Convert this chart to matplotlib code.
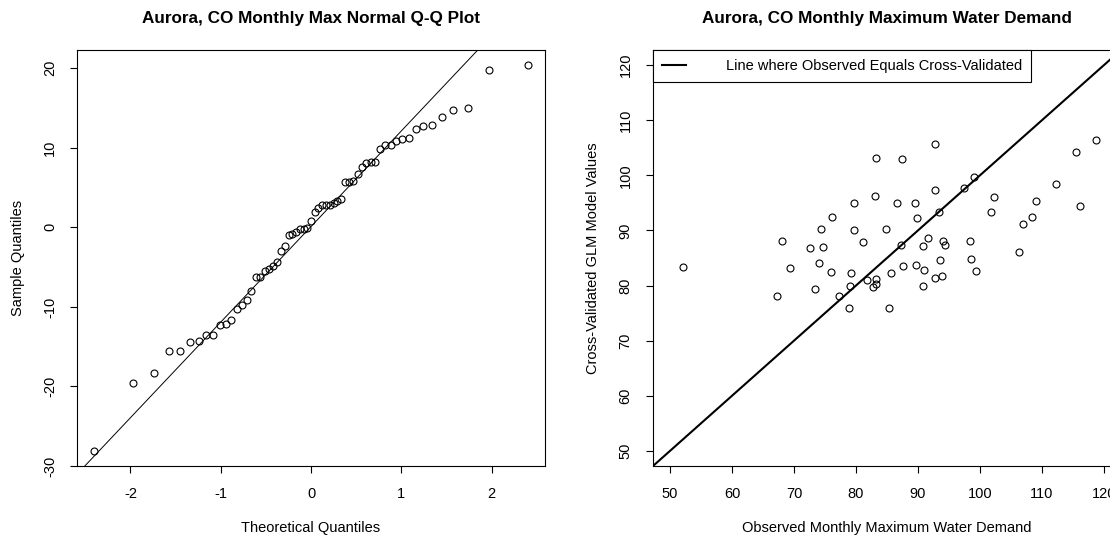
import statistics
import matplotlib.pyplot as plt
import numpy as np

plt.rcParams['font.family'] = ['Liberation Sans', 'DejaVu Sans']
plt.rcParams['axes.unicode_minus'] = False

# monthly max values, sorted
sample_quantiles = [
    -28.1, -19.5, -18.3, -15.6, -15.6, -14.4, -14.3, -13.5, -13.5, -12.3,
    -12.1, -11.6, -10.3, -9.8, -9.1, -8.0, -6.3, -6.3, -5.5, -5.2,
    -4.8, -4.4, -3.0, -2.3, -1.0, -0.8, -0.6, -0.25, -0.2, -0.1,
    0.8, 1.9, 2.4, 2.8, 2.8, 2.8, 3.1, 3.3, 3.6, 5.65,
    5.65, 5.8, 6.7, 7.6, 8.1, 8.2, 8.2, 9.8, 10.3, 10.4,
    10.9, 11.1, 11.2, 12.3, 12.7, 12.9, 13.9, 14.8, 15.0, 19.8,
    20.4]

# observed vs cross-validated GLM values
observed = [
    52.1, 68.0, 69.3, 67.3, 76.1, 74.4, 72.6, 74.6, 74.0, 75.9,
    73.4, 79.6, 79.6, 81.2, 79.2, 79.0, 77.3, 78.8, 83.3, 83.1,
    84.8, 81.8, 83.3, 83.3, 82.7, 92.8, 87.4, 92.8, 86.6, 89.5,
    89.8, 93.4, 97.4, 99.0, 102.3, 101.7, 109.0, 108.4, 106.9, 112.3,
    115.4, 118.7, 116.1, 106.3, 87.2, 90.8, 91.6, 94.1, 94.3, 98.4,
    93.5, 98.6, 99.4, 87.5, 89.7, 91.0, 85.6, 92.8, 93.9, 90.8,
    85.4]
cross_validated = [
    83.4, 88.1, 83.1, 78.1, 92.4, 90.3, 86.8, 87.0, 84.0, 82.4,
    79.4, 94.9, 90.1, 87.9, 82.2, 80.0, 78.1, 75.9, 103.1, 96.2,
    90.3, 81.0, 81.1, 80.2, 79.8, 105.7, 102.9, 97.3, 94.9, 94.9,
    92.3, 93.4, 97.7, 99.6, 96.1, 93.3, 95.3, 92.4, 91.1, 98.5,
    104.2, 106.4, 94.4, 86.0, 87.4, 87.2, 88.6, 88.0, 87.3, 88.1,
    84.6, 84.9, 82.6, 83.6, 83.8, 82.9, 82.2, 81.4, 81.8, 79.9,
    75.9]

demand_range = (50, 120)

FS = 10.5
TITLE_FS = 12.3


def r_style(ax):
    for s in ax.spines.values():
        s.set_linewidth(0.8)
    ax.tick_params(direction='out', length=5, width=0.8, pad=9.5, labelsize=FS)
    ax.tick_params(axis='y', labelrotation=90)
    for lab in ax.get_yticklabels():
        lab.set_va('center')


fig = plt.figure(figsize=(11.1, 5.37), dpi=100)

# --- normal Q-Q plot ---
ax1 = fig.add_axes([0.0694, 0.1315, 0.4216, 0.7762])
n = len(sample_quantiles)
nd = statistics.NormalDist()
theoretical = [nd.inv_cdf((i + 0.5) / n) for i in range(n)]
ax1.plot(theoretical, sample_quantiles, 'o', mfc='none', mec='black', ms=5, mew=0.8)
ax1.margins(0.04)
# qqline through the quartiles
q1, q3 = np.quantile(sample_quantiles, [0.25, 0.75])
ax1.axline((nd.inv_cdf(0.25), q1), (nd.inv_cdf(0.75), q3), color='black', lw=0.7)
ax1.set_xticks([-2, -1, 0, 1, 2])
ax1.set_yticks([-30, -20, -10, 0, 10, 20])
r_style(ax1)
ax1.set_xlabel('Theoretical Quantiles', fontsize=FS, labelpad=15)
ax1.set_ylabel('Sample Quantiles', fontsize=FS, labelpad=13)
ax1.set_title('Aurora, CO Monthly Max Normal Q-Q Plot', fontsize=TITLE_FS,
              fontweight='bold', pad=19)

# --- observed vs cross-validated ---
ax2 = fig.add_axes([0.5879, 0.1315, 0.4224, 0.7762])
ax2.plot(observed, cross_validated, 'o', mfc='none', mec='black', ms=5, mew=0.8)
ax2.axline((demand_range[0], demand_range[0]), slope=1, color='black', lw=1.5,
           label='Line where Observed Equals Cross-Validated')
pad = 0.04 * (demand_range[1] - demand_range[0])
ax2.set_xlim(demand_range[0] - pad, demand_range[1] + pad)
ax2.set_ylim(demand_range[0] - pad, demand_range[1] + pad)
ax2.set_xticks(range(50, 121, 10))
ax2.set_yticks(range(50, 121, 10))
r_style(ax2)
ax2.set_xlabel('Observed Monthly Maximum Water Demand', fontsize=FS, labelpad=15)
ax2.set_ylabel('Cross-Validated GLM Model Values', fontsize=FS, labelpad=13)
ax2.set_title('Aurora, CO Monthly Maximum Water Demand', fontsize=TITLE_FS,
              fontweight='bold', pad=19)
leg = ax2.legend(loc='upper left', borderaxespad=0, fancybox=False,
                 edgecolor='black', framealpha=1, fontsize=FS,
                 handlelength=1.7, handletextpad=2.7, borderpad=0.62)
leg.get_frame().set_linewidth(0.8)

fig.savefig('out.png', dpi=100)
